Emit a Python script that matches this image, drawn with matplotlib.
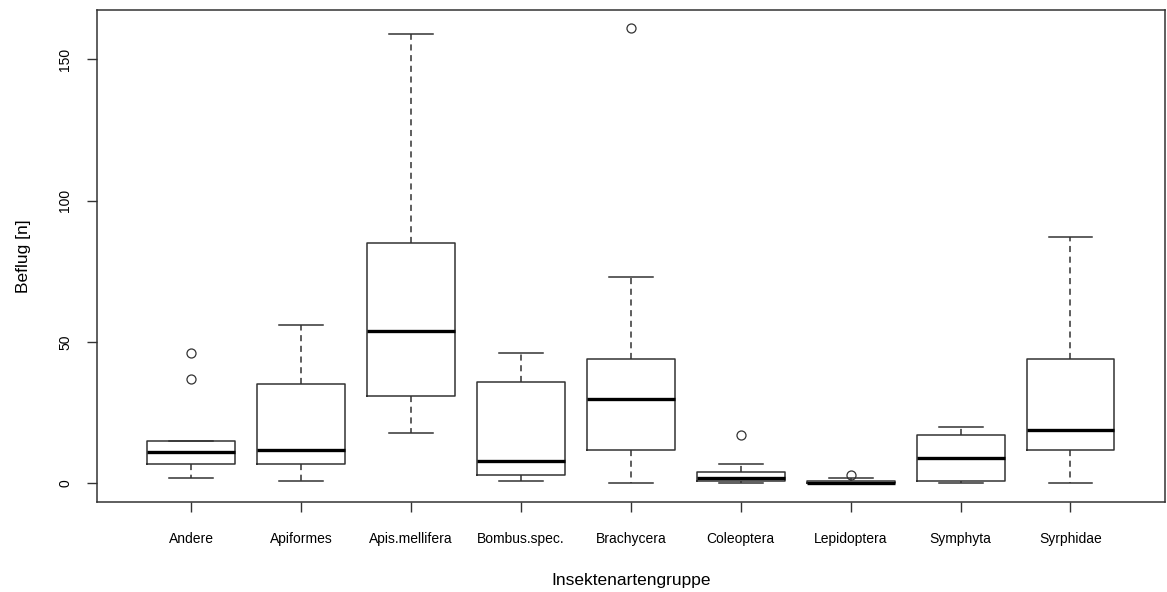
import matplotlib
matplotlib.use("Agg")
import matplotlib.pyplot as plt

plt.rcParams['font.family'] = ['Liberation Sans', 'DejaVu Sans']

# Box statistics (R boxplot)
groups = ["Andere", "Apiformes", "Apis.mellifera", "Bombus.spec.", "Brachycera",
          "Coleoptera", "Lepidoptera", "Symphyta", "Syrphidae"]
q1 = [7, 7, 31, 3, 12, 1, 0, 1, 12]
median = [11, 12, 54, 8, 30, 2, 0, 9, 19]
q3 = [15, 35, 85, 36, 44, 4, 1, 17, 44]
whisker_low = [2, 1, 18, 1, 0, 0, 0, 0, 0]
whisker_high = [15, 56, 159, 46, 73, 7, 2, 20, 87]
outliers = [[37, 46], [], [], [], [161], [17], [3], [], []]

stats = []
for i, name in enumerate(groups):
    stats.append({
        "label": name,
        "q1": q1[i], "med": median[i], "q3": q3[i],
        "whislo": whisker_low[i], "whishi": whisker_high[i],
        "fliers": outliers[i],
    })

fig = plt.figure(figsize=(11.67, 5.92), dpi=100)
ax = fig.add_axes([0.0829, 0.1525, 0.9154, 0.8311])

line_col = "#333333"
ax.bxp(
    stats,
    widths=0.8,
    capwidths=0.4,
    boxprops=dict(color=line_col, linewidth=1.1),
    medianprops=dict(color="black", linewidth=2.4, solid_capstyle="butt"),
    whiskerprops=dict(color=line_col, linewidth=1.1, linestyle=(0, (4, 3))),
    capprops=dict(color=line_col, linewidth=1.1),
    flierprops=dict(marker="o", markerfacecolor="none", markeredgecolor=line_col,
                    markersize=6.5, markeredgewidth=0.9, linestyle="none"),
)

ax.set_xlim(0.14, 9.86)
ax.set_ylim(-6.44, 167.44)
ax.set_yticks([0, 50, 100, 150])
ax.set_yticklabels(["0", "50", "100", "150"], rotation=90, va="center")

ax.tick_params(axis="both", direction="out", length=7.5, width=1.0,
               color=line_col, labelsize=10)
ax.tick_params(axis="x", pad=14)
ax.tick_params(axis="y", pad=10)

for sp in ax.spines.values():
    sp.set_color(line_col)
    sp.set_linewidth(1.1)

ax.set_xlabel("Insektenartengruppe", fontsize=12.5, labelpad=20)
ax.set_ylabel("Beflug [n]", fontsize=12.5, labelpad=20)

fig.savefig("out.png", dpi=100)
